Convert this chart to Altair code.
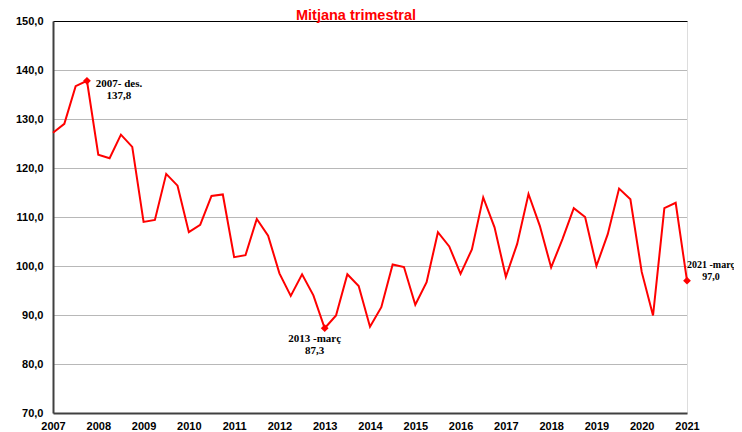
import altair as alt
import pandas as pd

# Quarterly average, 2007 Q1 .. 2021 Q1
values = [
    127.2, 129.0, 136.7, 137.8,
    122.7, 122.0, 126.8, 124.3,
    109.0, 109.4, 118.8, 116.4,
    106.9, 108.4, 114.3, 114.6,
    101.8, 102.2, 109.6, 106.2,
    98.5, 93.9, 98.3, 94.0,
    87.3, 89.9, 98.3, 95.9,
    87.6, 91.6, 100.3, 99.8,
    92.1, 96.7, 106.9, 104.0,
    98.4, 103.4, 114.0, 107.9,
    97.8, 104.5, 114.7, 108.2,
    99.7, 105.5, 111.8, 110.0,
    100.0, 106.5, 115.8, 113.6,
    98.8, 89.9, 111.8, 112.9,
    97.0,
]
year_labels = [2007, 2008, 2009, 2010, 2011, 2012, 2013, 2014,
               2015, 2016, 2017, 2018, 2019, 2020, 2021]
y_ticks = [70, 80, 90, 100, 110, 120, 130, 140, 150]
title_text = ["Mitjana trimestral"]

ann_index = [3, 24, 56]
ann_line1 = ["2007- des.", "2013 -març", "2021 -març"]
ann_line2 = ["137,8", "87,3", "97,0"]
ann_dx = [32, -10, 24]
ann_dy1 = [3, 11, -16]
ann_size = [11, 11, 10]

df = pd.DataFrame({"q": list(range(len(values))), "v": values})
ann = pd.DataFrame({
    "q": ann_index,
    "v": [values[i] for i in ann_index],
    "l1": ann_line1,
    "l2": ann_line2,
})
title_df = pd.DataFrame({"t": title_text})

tick_q = [(y - 2007) * 4 for y in year_labels]

x = alt.X("q:Q", scale=alt.Scale(domain=[0, 56], nice=False, zero=False),
          axis=alt.Axis(values=tick_q, labelExpr="2007 + datum.value/4",
                        title=None, grid=False, ticks=False,
                        labelFont="Liberation Sans", labelFontWeight="bold",
                        labelFontSize=11, labelColor="black", labelPadding=7,
                        domainColor="#404040", domainWidth=2, labelFlush=False,
                        labelOverlap=False))
y = alt.Y("v:Q", scale=alt.Scale(domain=[70, 150], nice=False, zero=False),
          axis=alt.Axis(values=y_ticks,
                        labelExpr="replace(format(datum.value, '.1f'), '.', ',')",
                        title=None, ticks=False, grid=True,
                        gridColor={"condition": [
                            {"test": "datum.value == 70", "value": "transparent"},
                            {"test": "datum.value == 150", "value": "black"}],
                            "value": "#707070"},
                        gridDash={"condition": {"test": "datum.value == 150", "value": []},
                                  "value": [1, 1]},
                        gridWidth=1,
                        labelFont="Liberation Sans", labelFontWeight="bold",
                        labelFontSize=11, labelColor="black", labelPadding=10,
                        domainColor="#404040", domainWidth=2, labelFlush=False,
                        labelOverlap=False))

line = alt.Chart(df).mark_line(color="#FF0000", strokeWidth=2).encode(x=x, y=y)
pts = alt.Chart(ann).mark_point(shape="diamond", filled=True, color="#FF0000",
                                size=60, opacity=1).encode(x="q:Q", y="v:Q")

title = alt.Chart(title_df).mark_text(
    font="Liberation Sans", fontWeight="bold", fontSize=14.5, color="#FF0000",
    align="center", baseline="alphabetic").encode(
    x=alt.value(303), y=alt.value(-1), text="t:N")

layers = [line, pts, title]
for i in range(len(ann_index)):
    sub = ann.iloc[[i]]
    t1 = alt.Chart(sub).mark_text(font="Liberation Serif", fontWeight="bold",
                                  fontSize=ann_size[i], color="black", align="center",
                                  baseline="middle", dx=ann_dx[i], dy=ann_dy1[i]).encode(
        x="q:Q", y="v:Q", text="l1:N")
    t2 = alt.Chart(sub).mark_text(font="Liberation Serif", fontWeight="bold",
                                  fontSize=ann_size[i], color="black", align="center",
                                  baseline="middle", dx=ann_dx[i], dy=ann_dy1[i] + 12).encode(
        x="q:Q", y="v:Q", text="l2:N")
    layers += [t1, t2]

chart = alt.layer(*layers).properties(
    width=634, height=392,
    autosize=alt.AutoSizeParams(type="none"),
    padding={"left": 45, "top": 13, "right": 47, "bottom": 18},
).configure_view(stroke="black", strokeWidth=1).configure(background="white")

chart.save("out.html", embed_options={"renderer": "svg", "actions": False})
